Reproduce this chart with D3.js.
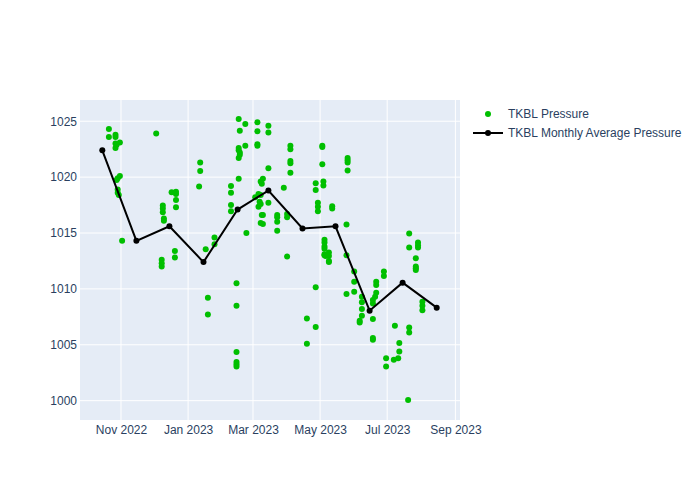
<!DOCTYPE html>
<html>
<head>
<meta charset="utf-8">
<script src="https://cdn.jsdelivr.net/npm/d3@7"></script>
<style>
  body { margin: 0; background: #fff; }
  text { font-family: "Liberation Sans", Arial, sans-serif; }
</style>
</head>
<body>
<div id="chart"></div>
<script>
// daily pressure readings
var pressureDates = [
  "2022-10-21","2022-10-21",
  "2022-10-27","2022-10-27","2022-10-27","2022-10-27",
  "2022-10-28","2022-10-28",
  "2022-10-29","2022-10-29","2022-10-29",
  "2022-10-30",
  "2022-10-31","2022-10-31",
  "2022-11-02",
  "2022-12-03",
  "2022-12-08","2022-12-08","2022-12-08",
  "2022-12-09","2022-12-09","2022-12-09",
  "2022-12-10","2022-12-10",
  "2022-12-17",
  "2022-12-20","2022-12-20",
  "2022-12-21","2022-12-21","2022-12-21","2022-12-21",
  "2023-01-11",
  "2023-01-12","2023-01-12",
  "2023-01-17",
  "2023-01-19","2023-01-19",
  "2023-01-25","2023-01-25",
  "2023-02-09","2023-02-09","2023-02-09","2023-02-09",
  "2023-02-14","2023-02-14","2023-02-14","2023-02-14","2023-02-14","2023-02-14",
  "2023-02-16","2023-02-16","2023-02-16","2023-02-16","2023-02-16",
  "2023-02-17","2023-02-17","2023-02-17",
  "2023-02-22","2023-02-22",
  "2023-02-23",
  "2023-03-03",
  "2023-03-05","2023-03-05","2023-03-05","2023-03-05",
  "2023-03-06","2023-03-06",
  "2023-03-07",
  "2023-03-08","2023-03-08","2023-03-08","2023-03-08",
  "2023-03-09","2023-03-09",
  "2023-03-10","2023-03-10","2023-03-10",
  "2023-03-15","2023-03-15","2023-03-15","2023-03-15",
  "2023-03-23","2023-03-23","2023-03-23","2023-03-23",
  "2023-03-29",
  "2023-04-01","2023-04-01","2023-04-01",
  "2023-04-04","2023-04-04","2023-04-04","2023-04-04","2023-04-04",
  "2023-04-19","2023-04-19",
  "2023-04-27","2023-04-27","2023-04-27","2023-04-27",
  "2023-04-29","2023-04-29","2023-04-29",
  "2023-05-03","2023-05-03","2023-05-03",
  "2023-05-04","2023-05-04",
  "2023-05-05","2023-05-05","2023-05-05","2023-05-05","2023-05-05","2023-05-05",
  "2023-05-06",
  "2023-05-09","2023-05-09","2023-05-09","2023-05-09",
  "2023-05-12","2023-05-12",
  "2023-05-25","2023-05-25","2023-05-25",
  "2023-05-26","2023-05-26","2023-05-26","2023-05-26",
  "2023-06-01","2023-06-01","2023-06-01",
  "2023-06-06","2023-06-06",
  "2023-06-08","2023-06-08","2023-06-08","2023-06-08",
  "2023-06-18","2023-06-18","2023-06-18","2023-06-18","2023-06-18",
  "2023-06-20",
  "2023-06-21","2023-06-21","2023-06-21",
  "2023-06-28","2023-06-28",
  "2023-06-30","2023-06-30",
  "2023-07-07",
  "2023-07-08",
  "2023-07-11",
  "2023-07-12","2023-07-12",
  "2023-07-20",
  "2023-07-21","2023-07-21","2023-07-21","2023-07-21",
  "2023-07-27","2023-07-27","2023-07-27","2023-07-27",
  "2023-07-29","2023-07-29","2023-07-29",
  "2023-08-02","2023-08-02","2023-08-02"
];
var pressureValues = [
  1024.3, 1023.6,
  1023.8, 1023.6, 1023.0, 1022.6,
  1022.9, 1019.75,
  1018.9, 1018.6, 1019.9,
  1018.4,
  1020.1, 1023.1,
  1014.3,
  1023.9,
  1012.6, 1012.3, 1012.0,
  1017.45, 1017.2, 1016.85,
  1016.3, 1016.1,
  1018.65,
  1013.4, 1012.8,
  1018.7, 1018.5, 1017.95, 1017.3,
  1019.15,
  1021.3, 1020.55,
  1013.55,
  1009.2, 1007.7,
  1014.6, 1014.0,
  1019.2, 1018.6, 1017.5, 1016.95,
  1010.5, 1008.5, 1004.35, 1003.45, 1003.25, 1003.05,
  1022.6, 1021.7, 1019.85, 1025.2, 1022.4,
  1024.15, 1022.2, 1022.0,
  1024.75, 1022.8,
  1015.0,
  1018.2,
  1024.9, 1024.1, 1022.95, 1022.8,
  1018.5, 1017.35,
  1017.8,
  1019.6, 1018.4, 1017.6, 1015.9,
  1019.4, 1016.6,
  1019.85, 1016.6, 1015.8,
  1020.8, 1024.6, 1024.0, 1017.7,
  1016.6, 1016.4, 1016.0, 1015.2,
  1019.05,
  1016.7, 1016.4, 1012.9,
  1022.8, 1022.5, 1021.45, 1021.25, 1020.4,
  1007.35, 1005.1,
  1010.15, 1006.6, 1019.45, 1018.85,
  1017.7, 1017.35, 1016.95,
  1022.8, 1022.7, 1021.15,
  1019.6, 1019.25,
  1014.4, 1013.8, 1013.1, 1014.15, 1013.6, 1013.0,
  1012.95,
  1013.25, 1012.95, 1012.5, 1012.4,
  1017.4, 1017.2,
  1013.0, 1015.75, 1009.55,
  1021.7, 1021.5, 1021.3, 1020.6,
  1011.55, 1010.65, 1009.75,
  1007.15, 1007.0,
  1009.3, 1008.8, 1008.2, 1007.6,
  1009.0, 1008.7, 1007.3, 1005.6, 1005.45,
  1009.3,
  1009.65, 1010.65, 1010.35,
  1011.55, 1011.15,
  1003.8, 1003.05,
  1003.65,
  1006.7,
  1003.8,
  1005.15, 1004.4,
  1000.05,
  1006.55, 1006.1, 1014.95, 1013.7,
  1012.75, 1012.0, 1011.85, 1011.7,
  1014.15, 1013.9, 1013.7,
  1008.85, 1008.5, 1008.1
];

// monthly averages
var avgDates = ["2022-10-15","2022-11-15","2022-12-15","2023-01-15","2023-02-15","2023-03-15",
                "2023-04-15","2023-05-15","2023-06-15","2023-07-15","2023-08-15"];
var avgValues = [1022.4, 1014.3, 1015.6, 1012.4, 1017.1, 1018.8, 1015.4, 1015.6, 1008.05, 1010.56, 1008.32];

var yTicks = [1000, 1005, 1010, 1015, 1020, 1025];

var width = 700, height = 500;
var margin = {top: 100, right: 240, bottom: 80, left: 80},
    plotW = width - margin.left - margin.right,
    plotH = height - margin.top - margin.bottom;

var parseDate = d3.timeParse("%Y-%m-%d");
var parseDT = d3.timeParse("%Y-%m-%d %H:%M");

var points = pressureDates.map(function(d, i) { return {date: parseDate(d), value: pressureValues[i]}; });
var avg = avgDates.map(function(d, i) { return {date: parseDate(d), value: avgValues[i]}; });

var svg = d3.select("#chart")
  .append("svg")
    .attr("width", width)
    .attr("height", height);

var g = svg.append("g")
    .attr("transform", "translate(" + margin.left + "," + margin.top + ")");

g.append("rect")
  .attr("width", plotW)
  .attr("height", plotH)
  .attr("fill", "#E5ECF6");

var x = d3.scaleTime()
  .domain([parseDT("2022-09-24 17:30"), parseDT("2023-09-05 04:20")])
  .range([0, plotW]);

var y = d3.scaleLinear()
  .domain([998.27, 1026.9])
  .range([plotH, 0]);

var xTicks = x.ticks(d3.timeMonth.every(2));

// grid
g.append("g")
  .selectAll("line.xg")
  .data(xTicks)
  .enter().append("line")
    .attr("x1", function(d) { return x(d); })
    .attr("x2", function(d) { return x(d); })
    .attr("y1", 0).attr("y2", plotH)
    .attr("stroke", "#fff").attr("stroke-width", 1);

g.append("g")
  .selectAll("line.yg")
  .data(yTicks)
  .enter().append("line")
    .attr("x1", 0).attr("x2", plotW)
    .attr("y1", function(d) { return y(d); })
    .attr("y2", function(d) { return y(d); })
    .attr("stroke", "#fff").attr("stroke-width", 1);

// axes
var xAxis = g.append("g")
  .attr("transform", "translate(0," + plotH + ")")
  .call(d3.axisBottom(x).tickValues(xTicks).tickFormat(d3.timeFormat("%b %Y")).tickSize(0).tickPadding(5));
xAxis.select(".domain").remove();
xAxis.selectAll("text").attr("fill", "#2a3f5f").style("font-size", "12px");

var yAxis = g.append("g")
  .call(d3.axisLeft(y).tickValues(yTicks).tickFormat(d3.format("d")).tickSize(0).tickPadding(3));
yAxis.select(".domain").remove();
yAxis.selectAll("text").attr("fill", "#2a3f5f").style("font-size", "12px");

var green = "#00bf00";

// scatter
g.append("g")
  .selectAll("circle")
  .data(points)
  .enter().append("circle")
    .attr("cx", function(d) { return x(d.date); })
    .attr("cy", function(d) { return y(d.value); })
    .attr("r", 3)
    .attr("fill", green);

// monthly average line
g.append("path")
  .datum(avg)
  .attr("d", d3.line()
    .x(function(d) { return x(d.date); })
    .y(function(d) { return y(d.value); }))
  .attr("fill", "none")
  .attr("stroke", "#000")
  .attr("stroke-width", 2);

g.append("g")
  .selectAll("circle")
  .data(avg)
  .enter().append("circle")
    .attr("cx", function(d) { return x(d.date); })
    .attr("cy", function(d) { return y(d.value); })
    .attr("r", 3)
    .attr("fill", "#000");

// legend
var legend = svg.append("g").attr("transform", "translate(473,114)");
legend.append("circle").attr("cx", 15).attr("cy", 0).attr("r", 3).attr("fill", green);
legend.append("text").attr("x", 35).attr("y", 0).attr("dy", "0.35em")
  .attr("fill", "#2a3f5f").style("font-size", "12px").text("TKBL Pressure");

legend.append("line").attr("x1", 0).attr("x2", 30).attr("y1", 19).attr("y2", 19)
  .attr("stroke", "#000").attr("stroke-width", 2);
legend.append("circle").attr("cx", 15).attr("cy", 19).attr("r", 3).attr("fill", "#000");
legend.append("text").attr("x", 35).attr("y", 19).attr("dy", "0.35em")
  .attr("fill", "#2a3f5f").style("font-size", "12px").text("TKBL Monthly Average Pressure");
</script>
</body>
</html>
